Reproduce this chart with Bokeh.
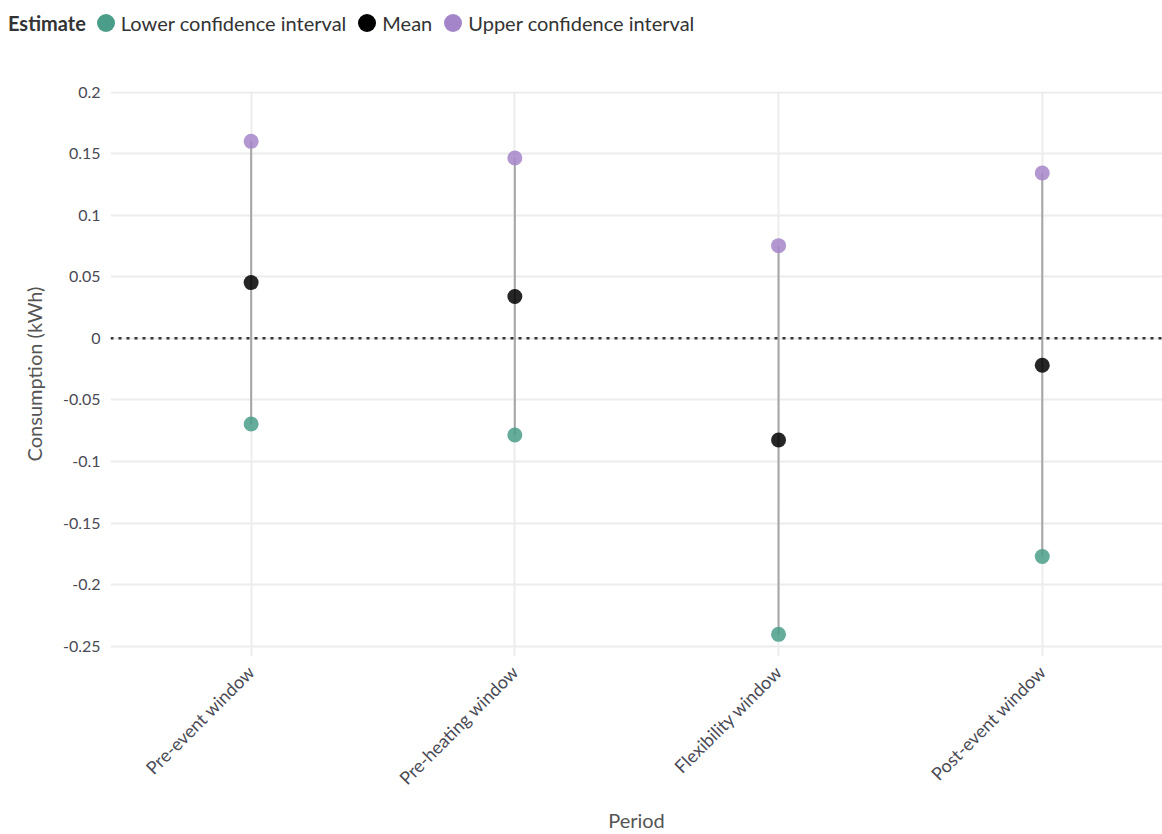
import math
from bokeh.plotting import figure
from bokeh.layouts import column
from bokeh.models import (ColumnDataSource, Span, FixedTicker, Range1d, Div)
from bokeh.embed import file_html
from bokeh.resources import INLINE

categories = ["Pre-event window", "Pre-heating window", "Flexibility window", "Post-event window"]
lower = [-0.0696, -0.0785, -0.2404, -0.1772]
mean = [0.0453, 0.0340, -0.0826, -0.0219]
upper = [0.1600, 0.1465, 0.0753, 0.1343]
y_ticks = [0.2, 0.15, 0.1, 0.05, 0, -0.05, -0.1, -0.15, -0.2, -0.25]
y_labels = ["0.2", "0.15", "0.1", "0.05", "0", "-0.05", "-0.1", "-0.15", "-0.2", "-0.25"]
legend_title = "Estimate"
series_names = ["Lower confidence interval", "Mean", "Upper confidence interval"]

xpos = [i + 0.5 for i in range(len(categories))]
src = ColumnDataSource(dict(x=xpos, lower=lower, mean=mean, upper=upper))

FONT = "Lato"
TEAL = "#4a9d88"
BLACK = "#000000"
PURPLE = "#a585c9"
series = [("lower", TEAL), ("mean", BLACK), ("upper", PURPLE)]

# ---------------- main chart ----------------
p = figure(width=1162, height=788, output_backend="svg", toolbar_location=None,
           x_range=Range1d(-0.0333, 3.956), y_range=Range1d(-0.2584, 0.2005),
           min_border_left=110, min_border_top=45, min_border_right=0,
           min_border_bottom=176,
           outline_line_color=None)

p.xgrid.ticker = FixedTicker(ticks=xpos)
p.ygrid.ticker = FixedTicker(ticks=y_ticks)
p.xgrid.grid_line_color = "#ececec"
p.ygrid.grid_line_color = "#ececec"
p.xgrid.grid_line_width = 2
p.ygrid.grid_line_width = 2

p.xaxis.ticker = FixedTicker(ticks=xpos)
p.xaxis.major_label_overrides = {x: c for x, c in zip(xpos, categories)}
p.xaxis.major_label_orientation = math.pi / 4
p.yaxis.ticker = FixedTicker(ticks=y_ticks)
p.yaxis.major_label_overrides = {t: l for t, l in zip(y_ticks, y_labels)}
for ax in (p.xaxis[0], p.yaxis[0]):
    ax.axis_line_color = None
    ax.major_tick_line_color = None
    ax.minor_tick_line_color = None
    ax.major_label_text_font = FONT
    ax.major_label_text_font_size = "16px"
    ax.major_label_text_color = "#4a4a55"
    ax.axis_label_text_font = FONT
    ax.axis_label_text_font_size = "20px"
    ax.axis_label_text_font_style = "normal"
    ax.axis_label_text_color = "#555555"
p.xaxis.major_label_text_font_size = "18px"
p.xaxis.axis_label = "Period"
p.yaxis.axis_label = "Consumption (kWh)"
p.xaxis.major_label_standoff = 6
p.yaxis.major_label_standoff = 4
p.xaxis.axis_label_standoff = 8
p.yaxis.axis_label_standoff = 14

p.add_layout(Span(location=0, dimension="width", line_color="#333333",
                  line_width=2.5, line_dash="3 5"))

p.segment(x0="x", y0="lower", x1="x", y1="upper", source=src,
          line_color="#a6a6a6", line_width=2)

for col, color in series:
    p.scatter("x", col, source=src, size=15, fill_color=color, fill_alpha=0.85,
              line_color=None)

# ---------------- legend header ----------------
parts = [f'<b style="margin-right:11px">{legend_title}</b>']
for (col, color), name in zip(series, series_names):
    parts.append(
        f'<span style="display:inline-block;width:18px;height:18px;border-radius:50%;'
        f'background:{color};margin-right:6px;flex:none"></span>'
        f'<span style="margin-right:12px">{name}</span>')
html = ('<div style="display:flex;align-items:center;height:46px;padding-left:8px;'
        'box-sizing:border-box;font-family:Lato;font-size:20px;color:#333333;'
        'white-space:nowrap">' + "".join(parts) + '</div>')
header = Div(text=html, width=1162, height=46, margin=0)

layout = column(header, p, spacing=0)
open("out.html", "w").write(file_html(layout, INLINE))
